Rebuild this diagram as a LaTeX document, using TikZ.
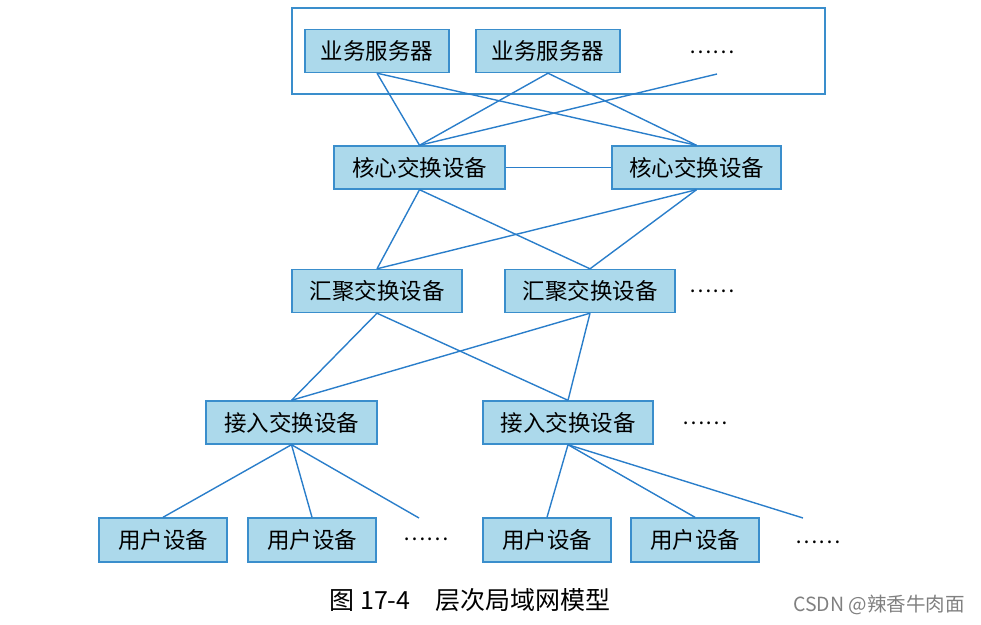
\documentclass[tikz,border=0pt]{standalone}
\usepackage{fontspec}
\newfontfamily\cjk{Noto Sans CJK SC}
\usepackage{xcolor}
\usetikzlibrary{positioning}
\definecolor{boxfill}{RGB}{172,217,235}
\definecolor{boxline}{RGB}{58,142,204}
\definecolor{linkblue}{RGB}{42,126,202}

\begin{document}
\begin{tikzpicture}[x=1pt, y=-1pt,
    dev/.style={draw=boxline, line width=1.4pt, fill=boxfill, inner sep=0pt,
        minimum height=43pt, font=\cjk\fontsize{22.5}{26}\selectfont},
    link/.style={draw=linkblue, line width=1.4pt},
    more/.style={font=\cjk\fontsize{21}{24}\selectfont}]
    \useasboundingbox (0,0) rectangle (981,624);
    % server area
    \node[draw=boxline, line width=1.4pt, minimum width=533pt, minimum height=86pt,
        inner sep=0pt] (area) at (558.5,51) {};
    \node[dev, minimum width=144pt] (srv1) at (377,51) {业务服务器};
    \node[dev, minimum width=144pt] (srv2) at (548,51) {业务服务器};
    \node[more] (srvdots) at (712,52) {……};
    \coordinate (srvmore) at (717,74);
    % core layer
    \node[dev, minimum width=171pt] (core1) at (419.5,167.5) {核心交换设备};
    \node[dev, minimum width=169pt] (core2) at (696.5,167.5) {核心交换设备};
    % aggregation layer
    \node[dev, minimum width=170pt] (agg1) at (377,291) {汇聚交换设备};
    \node[dev, minimum width=170pt] (agg2) at (590,291) {汇聚交换设备};
    \node[more] (aggdots) at (712,291) {……};
    % access layer
    \node[dev, minimum width=171pt] (acc1) at (291.5,422.5) {接入交换设备};
    \node[dev, minimum width=170pt] (acc2) at (568,422.5) {接入交换设备};
    \node[more] (accdots) at (705,423) {……};
    % user devices
    \node[dev, minimum width=128pt, minimum height=44pt] (usr1) at (163,540) {用户设备};
    \node[dev, minimum width=128pt, minimum height=44pt] (usr2) at (312,540) {用户设备};
    \node[more] (usrdots1) at (426,539) {……};
    \coordinate (usrmore1) at (419,518);
    \node[dev, minimum width=128pt, minimum height=44pt] (usr3) at (547,540) {用户设备};
    \node[dev, minimum width=128pt, minimum height=44pt] (usr4) at (695,540) {用户设备};
    \node[more] (usrdots2) at (818,542) {……};
    \coordinate (usrmore2) at (803,518);

    \draw[link] (srv1.south) -- (core1.north);
    \draw[link] (srv1.south) -- (core2.north);
    \draw[link] (srv2.south) -- (core1.north);
    \draw[link] (srv2.south) -- (core2.north);
    \draw[link] (srvmore) -- (core1.north);
    \draw[link] (core1.east) -- (core2.west);
    \foreach \c in {core1, core2} {
        \draw[link] (\c.south) -- (agg1.north);
        \draw[link] (\c.south) -- (agg2.north);
    }
    \foreach \a in {agg1, agg2} {
        \draw[link] (\a.south) -- (acc1.north);
        \draw[link] (\a.south) -- (acc2.north);
    }
    \draw[link] (acc1.south) -- (usr1.north);
    \draw[link] (acc1.south) -- (usr2.north);
    \draw[link] (acc1.south) -- (usrmore1);
    \draw[link] (acc2.south) -- (usr3.north);
    \draw[link] (acc2.south) -- (usr4.north);
    \draw[link] (acc2.south) -- (usrmore2);

    % caption
    \node[font=\cjk\fontsize{25}{28}\selectfont] (caption) at (470,600)
        {图 17-4\quad 层次局域网模型};
    \node[font=\cjk\fontsize{19.5}{22}\selectfont, text=gray] (mark) at (879,605)
        {CSDN @辣香牛肉面};
\end{tikzpicture}
\end{document}
